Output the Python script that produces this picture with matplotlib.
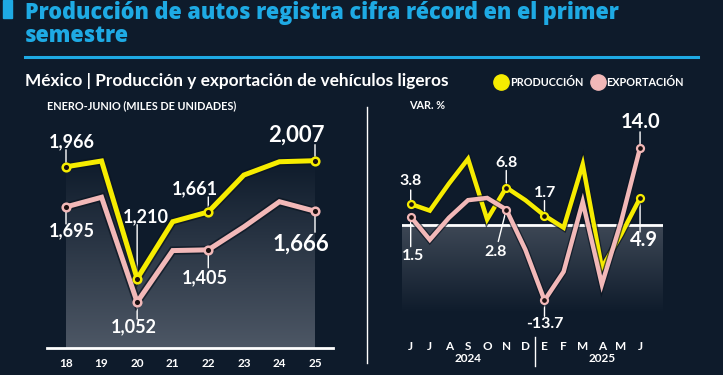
import matplotlib
matplotlib.use('Agg')
import matplotlib.pyplot as plt
import matplotlib.patheffects as pe
from matplotlib.colors import LinearSegmentedColormap
from matplotlib.lines import Line2D
from matplotlib.patches import Rectangle
import numpy as np

# data
years = ['18', '19', '20', '21', '22', '23', '24', '25']
produccion = [1966, 2005, 1210, 1595, 1661, 1910, 2000, 2007]
exportacion = [1695, 1760, 1052, 1400, 1405, 1560, 1730, 1666]

months = ['J', 'J', 'A', 'S', 'O', 'N', 'D', 'E', 'F', 'M', 'A', 'M', 'J']
var_produccion = [3.8, 2.6, 7.5, 12.0, 1.0, 6.8, 4.5, 1.7, -0.5, 11.0, -7.8, -1.8, 4.9]
var_exportacion = [1.5, -2.7, 1.3, 4.5, 4.9, 2.8, -4.5, -13.7, -8.5, 4.2, -10.8, 0.5, 14.0]

# colours
BG = '#0e1b2b'
CYAN = '#1eaae4'
YELLOW = '#f6ec00'
PINK = '#f2b8b8'
DOT = '#1b0f0f'

plt.rcParams['font.family'] = ['Lato', 'DejaVu Sans']

W, H = 723, 375
fig = plt.figure(figsize=(W / 100, H / 100), dpi=100, facecolor=BG)


def fx(x):
    return x / W


def fy(y):
    return 1 - y / H


def px_axes(x0, y0, x1, y1):
    # axes placed with pixel edges (top-left origin)
    return fig.add_axes([fx(x0), fy(y1), (x1 - x0) / W, (y1 - y0) / H])


# ---- header ----
title_font = ['Open Sans', 'DejaVu Sans']
fig.add_artist(Rectangle((fx(3), fy(18)), fx(9), 18 / H, color=CYAN, transform=fig.transFigure))
fig.text(fx(25), fy(19), 'Producción de autos registra cifra récord en el primer',
         color=CYAN, fontsize=15.6, fontweight='heavy', va='baseline', family=title_font)
fig.text(fx(25), fy(42), 'semestre', color=CYAN, fontsize=15.6, fontweight='heavy',
         va='baseline', family=title_font)
fig.add_artist(Line2D([fx(25), fx(698)], [fy(57), fy(57)], color=CYAN, lw=2.2,
                      transform=fig.transFigure))
fig.text(fx(25), fy(81), 'México | Producción y exportación de vehículos ligeros',
         color='white', fontsize=12.4, fontweight='bold', va='center')

handles = [Line2D([], [], marker='o', ls='none', markersize=11, markerfacecolor=YELLOW,
                  markeredgecolor=YELLOW),
           Line2D([], [], marker='o', ls='none', markersize=11, markerfacecolor=PINK,
                  markeredgecolor=PINK)]
leg = fig.legend(handles, ['PRODUCCIÓN', 'EXPORTACIÓN'], loc='center left',
                 bbox_to_anchor=(fx(483), fy(82)), ncol=2, frameon=False,
                 handletextpad=0.0, columnspacing=0.5, handlelength=1.6,
                 prop={'size': 7.8, 'weight': 'bold'})
for t in leg.get_texts():
    t.set_color('white')

# separator between panels
fig.add_artist(Line2D([fx(367), fx(367)], [fy(107), fy(363)], color='white', lw=1,
                      transform=fig.transFigure))

shadow = [pe.Stroke(linewidth=6, foreground='#0a1420', alpha=0.7), pe.Normal()]
shadow_r = [pe.Stroke(linewidth=5, foreground='#0a1420', alpha=0.7), pe.Normal()]


def leader_label(ax, x, y, text, dx, dy, lead, size):
    # dx, dy: label centre offset in px from the point; lead: leader end in px
    k = 0.72
    ax.annotate('', xy=(x, y), xytext=(lead[0] * k, -lead[1] * k), textcoords='offset points',
                arrowprops=dict(arrowstyle='-', color='white', lw=1, shrinkA=0, shrinkB=0),
                zorder=2)
    ax.annotate(text, xy=(x, y), xytext=(dx * k, -dy * k), textcoords='offset points',
                ha='center', va='center', color='white', fontsize=size, fontweight='bold',
                zorder=6)


# ---- left panel ----
axl = px_axes(47, 100, 333, 348)
axl.set_facecolor('none')
xl = np.arange(18, 26)
axl.set_xlim(17.466, 25.506)
axl.set_ylim(742, 2417)

grad_l = LinearSegmentedColormap.from_list('gl', ['#4d5765', BG])
poly = axl.fill_between(xl, produccion, 742, color='none', lw=0)
img = axl.imshow(np.linspace(0, 1, 256).reshape(-1, 1), cmap=grad_l, aspect='auto',
                 origin='lower', extent=[18, 25, 742, 2007], zorder=0)
img.set_clip_path(poly.get_paths()[0], transform=axl.transData)

axl.plot(xl, exportacion, color=PINK, lw=3.6, solid_joinstyle='miter', path_effects=shadow, zorder=3)
axl.plot(xl, produccion, color=YELLOW, lw=3.6, solid_joinstyle='miter', path_effects=shadow, zorder=4)

mark_l = [0, 2, 4, 7]
axl.plot(xl[mark_l], np.array(produccion)[mark_l], 'o', ms=5.5, mfc=DOT, mec=YELLOW, mew=1.8, zorder=5)
axl.plot(xl[mark_l], np.array(exportacion)[mark_l], 'o', ms=5.5, mfc=DOT, mec=PINK, mew=1.8, zorder=5)

fmt = lambda v: f'{v:,}'
leader_label(axl, 18, produccion[0], fmt(produccion[0]), 6, -25, (0, -17), 13)
leader_label(axl, 18, exportacion[0], fmt(exportacion[0]), 6, 24, (0, 17), 13)
leader_label(axl, 20, produccion[2], fmt(produccion[2]), 9, -62, (0, -54), 13)
leader_label(axl, 20, exportacion[2], fmt(exportacion[2]), -3, 25, (0, 17), 13)
leader_label(axl, 22, produccion[4], fmt(produccion[4]), -13, -23, (0, -15), 13)
leader_label(axl, 22, exportacion[4], fmt(exportacion[4]), -3, 28, (0, 18), 13)
leader_label(axl, 25, produccion[7], fmt(produccion[7]), -19, -26, (0, -16), 16)
leader_label(axl, 25, exportacion[7], fmt(exportacion[7]), -14, 33, (0, 21), 16)

for s in ['top', 'left', 'right']:
    axl.spines[s].set_visible(False)
axl.spines['bottom'].set_color('white')
axl.spines['bottom'].set_linewidth(2)
axl.set_yticks([])
axl.set_xticks(xl)
axl.set_xticklabels(years, color='white', fontsize=8.5, fontweight='bold')
axl.tick_params(axis='x', length=0, pad=7)
axl.text(0, 1.0, 'ENERO-JUNIO (MILES DE UNIDADES)', transform=axl.transAxes, color='white',
         fontsize=7.8, fontweight='bold', va='top', ha='left')

# ---- right panel ----
axr = px_axes(402, 100, 663, 335)
axr.set_facecolor('none')
xr = np.arange(len(months))
axr.set_xlim(-0.455, 13.2)
axr.set_ylim(-20, 22.7)
for s in axr.spines.values():
    s.set_visible(False)

grad_r = LinearSegmentedColormap.from_list('gr', ['#3e4856', BG])
axr.imshow(np.linspace(0, 1, 256).reshape(-1, 1), cmap=grad_r, aspect='auto',
           origin='upper', extent=[-0.455, 13.2, -16, 0], zorder=0)
axr.axhline(0, color='white', lw=2, zorder=1)

axr.plot(xr, var_produccion, color=YELLOW, lw=3.2, solid_joinstyle='miter', path_effects=shadow_r, zorder=3)
axr.plot(xr, var_exportacion, color=PINK, lw=3.2, solid_joinstyle='miter', path_effects=shadow_r, zorder=4)

mark_p = [0, 5, 7, 12]
mark_e = [0, 5, 7, 12]
axr.plot(xr[mark_p], np.array(var_produccion)[mark_p], 'o', ms=5, mfc=DOT, mec=YELLOW, mew=1.6, zorder=5)
axr.plot(xr[mark_e], np.array(var_exportacion)[mark_e], 'o', ms=5, mfc=DOT, mec=PINK, mew=1.6, zorder=5)

fr = lambda v: f'{v:.1f}'
leader_label(axr, 0, var_produccion[0], fr(var_produccion[0]), 0, -23, (0, -14), 11.5)
leader_label(axr, 0, var_exportacion[0], fr(var_exportacion[0]), 2, 39, (0, 30), 11.5)
leader_label(axr, 5, var_produccion[5], fr(var_produccion[5]), 0, -25, (0, -17), 11.5)
leader_label(axr, 5, var_exportacion[5], fr(var_exportacion[5]), -11, 42, (-8, 32), 11.5)
leader_label(axr, 7, var_produccion[7], fr(var_produccion[7]), 1, -23, (0, -15), 11.5)
leader_label(axr, 7, var_exportacion[7], fr(var_exportacion[7]), 0, 24, (0, 16), 11.5)
leader_label(axr, 12, var_exportacion[12], fr(var_exportacion[12]), 0, -26, (0, -16), 14.5)
leader_label(axr, 12, var_produccion[12], fr(var_produccion[12]), 4, 42, (0, 34), 14.5)

axr.set_yticks([])
axr.set_xticks(xr)
axr.set_xticklabels(months, color='white', fontsize=8.5, fontweight='bold')
axr.tick_params(axis='x', length=0, pad=4)
axr.text(3, -0.1, '2024', transform=axr.get_xaxis_transform(), color='white', fontsize=8.5,
         fontweight='bold', ha='center', va='center')
axr.text(10, -0.1, '2025', transform=axr.get_xaxis_transform(), color='white', fontsize=8.5,
         fontweight='bold', ha='center', va='center')
axr.plot([6.5, 6.5], [-0.01, -0.13], transform=axr.get_xaxis_transform(), color='white',
         lw=1, clip_on=False)
axr.text(-0.1, 22.7, 'VAR. %', color='white', fontsize=7.8, fontweight='bold', va='top', ha='left')

fig.savefig('out.png', dpi=100, facecolor=BG)
